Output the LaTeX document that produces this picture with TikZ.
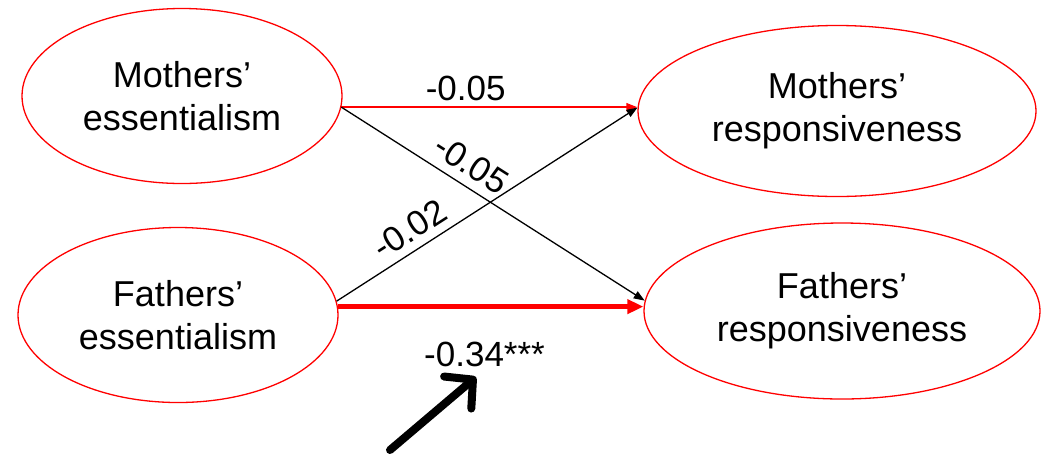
\documentclass[tikz,border=0pt]{standalone}
\usepackage{fontspec}
\setmainfont{Liberation Sans}
\usetikzlibrary{arrows.meta, shapes.geometric}
\tikzset{
  var/.style={ellipse, draw=red, line width=1.3pt, inner sep=0pt, align=center, font=\fontsize{36}{43}\selectfont},
  coef/.style={font=\fontsize{35}{40}\selectfont, inner sep=2pt, text=black},
  effect/.style={-{Triangle[length=11pt, width=8pt]}, line width=1.3pt},
  redeffect/.style={effect, red, line width=1.8pt},
  sigeffect/.style={-{Triangle[length=16pt, width=14pt]}, red, line width=5pt},
  pointer/.style={-{Straight Barb[length=20pt, width=42pt, round]}, line width=8pt, line cap=round, line join=round},
}
\begin{document}
\begin{tikzpicture}[x=1pt, y=-1pt]
  \useasboundingbox (0,0) rectangle (1046,456);
  \node[var, minimum width=320pt, minimum height=175pt] (ME) at (182,96) {Mothers’\\essentialism};
  \node[var, minimum width=320pt, minimum height=175pt] (FE) at (178,315) {Fathers’\\essentialism};
  \node[var, minimum width=398pt, minimum height=171pt] (MR) at (837,111) {Mothers’\\responsiveness};
  \node[var, minimum width=396pt, minimum height=176pt] (FR) at (842,311) {Fathers’\\responsiveness};
  % paths
  \draw[redeffect] (ME.-4) -- (ME.-4 -| MR.west) node[coef, pos=0.42, above=3pt] (c1) {-0.05};
  \draw[effect] (ME.-4) -- (FR.177) node[coef, pos=0.39, sloped, above=7pt] (c2) {-0.05};
  \draw[effect] (FE.5) -- (MR.179) node[coef, pos=0.28, sloped, above=6pt] (c3) {-0.02};
  \draw[sigeffect] (FE.3) -- (FE.3 -| FR.west) node[coef, pos=0.48, below=31pt] (c4) {-0.34***};
  % pointer to the significant effect
  \coordinate (ptail) at (390,450);
  \coordinate (phead) at (476,377);
  \draw[pointer] (ptail) -- (phead);
\end{tikzpicture}
\end{document}
